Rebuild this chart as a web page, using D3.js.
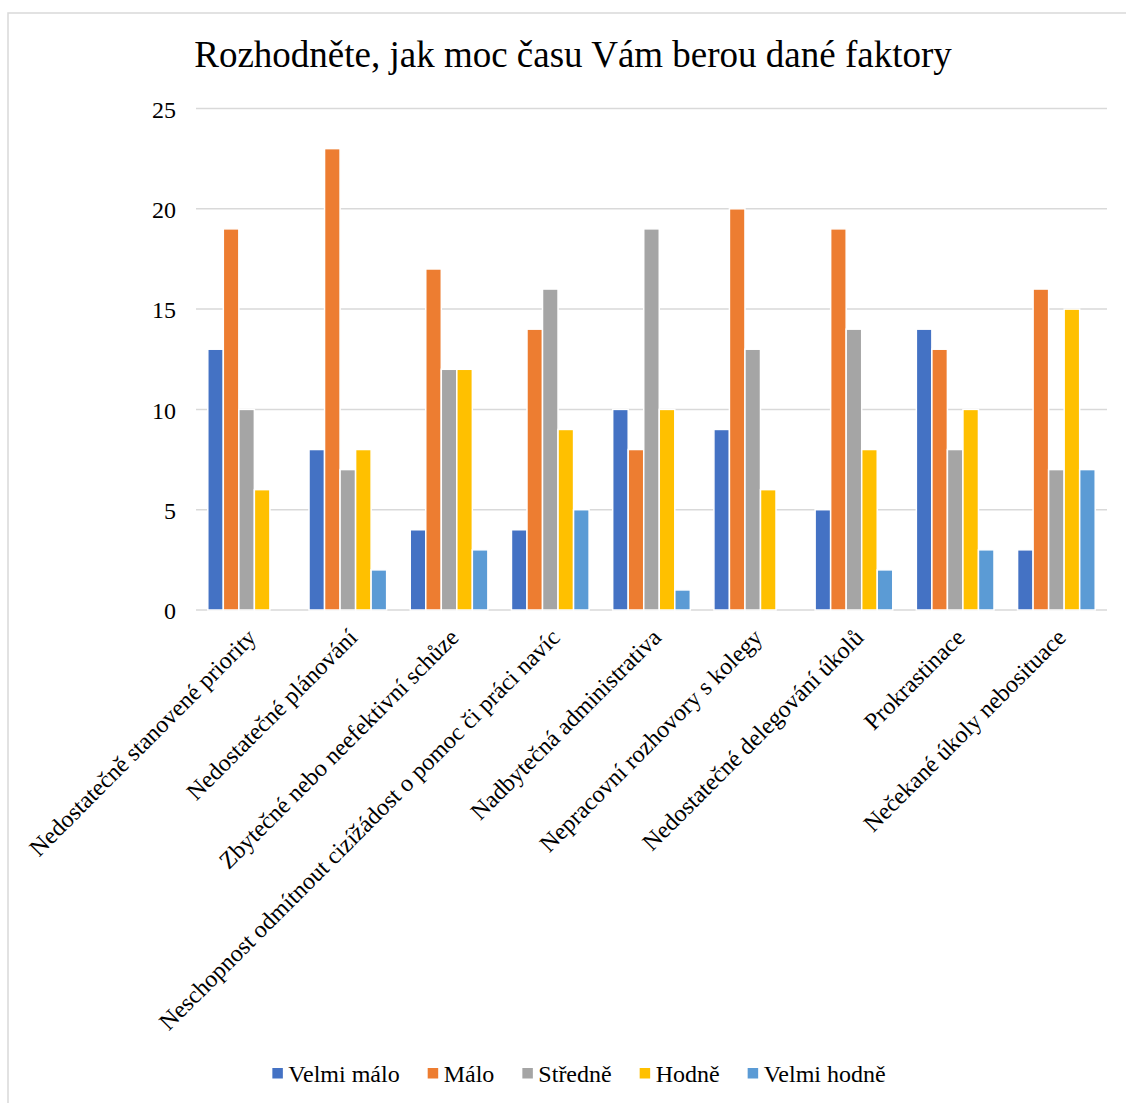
<!DOCTYPE html>
<html>
<head>
<meta charset="utf-8">
<script src="https://cdn.jsdelivr.net/npm/d3@7"></script>
<style>
  html, body { margin: 0; padding: 0; background: #fff; }
  svg { display: block; }
  text { font-family: "Liberation Serif", "Times New Roman", serif; fill: #000; }
</style>
</head>
<body>
<svg id="chart" width="1126" height="1103"></svg>
<script>
const title = "Rozhodněte, jak moc času Vám berou dané faktory";
const categories = [
  "Nedostatečně stanovené priority",
  "Nedostatečné plánování",
  "Zbytečné nebo neefektivní schůze",
  "Neschopnost odmítnout cizížádost o pomoc či práci navíc",
  "Nadbytečná administrativa",
  "Nepracovní rozhovory s kolegy",
  "Nedostatečné delegování úkolů",
  "Prokrastinace",
  "Nečekané úkoly nebosituace"
];
const seriesNames = ["Velmi málo", "Málo", "Středně", "Hodně", "Velmi hodně"];
const velmiMalo  = [13, 8, 4, 4, 10, 9, 5, 14, 3];
const malo       = [19, 23, 17, 14, 8, 20, 19, 13, 16];
const stredne    = [10, 7, 12, 16, 19, 13, 14, 8, 7];
const hodne      = [6, 8, 12, 9, 10, 6, 8, 10, 15];
const velmiHodne = [0, 2, 3, 5, 1, 0, 2, 3, 7];
const yTicks = [0, 5, 10, 15, 20, 25];
const colors = ["#4472C4", "#ED7D31", "#A5A5A5", "#FFC000", "#5B9BD5"];

const seriesValues = [velmiMalo, malo, stredne, hodne, velmiHodne];

const svg = d3.select("#chart");

// chart area border (cropped on right/bottom)
svg.append("rect")
  .attr("x", 8).attr("y", 13).attr("width", 1200).attr("height", 1200)
  .attr("fill", "none").attr("stroke", "#D9D9D9").attr("stroke-width", 1.5);

const plot = { left: 196, right: 1107, top: 108.5, bottom: 610 };

const x0 = d3.scaleBand().domain(categories)
  .range([plot.left, plot.right]).paddingInner(0.233).paddingOuter(0.1165);
const x1 = d3.scaleBand().domain(seriesNames).range([0, x0.bandwidth()]);
const y = d3.scaleLinear().domain([0, 25]).range([plot.bottom, plot.top]);

// title
svg.append("text")
  .attr("x", 573).attr("y", 67)
  .attr("text-anchor", "middle")
  .style("font-size", "37px")
  .text(title);

// gridlines
svg.append("g").selectAll("line").data(yTicks).join("line")
  .attr("x1", plot.left).attr("x2", plot.right)
  .attr("y1", d => y(d)).attr("y2", d => y(d))
  .attr("stroke", "#D9D9D9").attr("stroke-width", 1.5);

// y axis labels
const yAxis = d3.axisLeft(y).tickValues(yTicks).tickSize(0).tickPadding(0).tickFormat(d3.format("d"));
const yg = svg.append("g").attr("transform", `translate(176,1)`).call(yAxis);
yg.select(".domain").remove();
yg.selectAll("text").style("font-size", "24px").style("font-family", "Liberation Serif").attr("fill", "#000");

// bars
const rows = categories.map((c, i) => ({ cat: c, vals: seriesNames.map((s, j) => ({ s, j, v: seriesValues[j][i] })) }));
const groups = svg.append("g").selectAll("g").data(rows).join("g")
  .attr("transform", d => `translate(${x0(d.cat)},0)`);
groups.selectAll("rect").data(d => d.vals.filter(e => e.v > 0)).join("rect")
  .attr("x", d => x1(d.s))
  .attr("width", x1.bandwidth())
  .attr("y", d => y(d.v))
  .attr("height", d => y(0) - y(d.v))
  .attr("fill", d => colors[d.j])
  .attr("stroke", "#fff").attr("stroke-width", 1.5);

// x labels
svg.append("g").selectAll("text").data(categories).join("text")
  .attr("text-anchor", "end")
  .attr("transform", d => `translate(${x0(d) + x0.bandwidth() / 2 + 11},639) rotate(-45)`)
  .style("font-size", "24px")
  .text(d => d);

// legend
const legend = svg.append("g");
const items = legend.selectAll("g").data(seriesNames).join("g");
items.append("rect").attr("width", 10.5).attr("height", 10.5).attr("y", -16)
  .attr("fill", (d, i) => colors[i]);
items.append("text").attr("x", 16).attr("y", -2).style("font-size", "24px").text(d => d);
let cx = 0;
const widths = [];
items.each(function () {
  const w = d3.select(this).select("text").node().getComputedTextLength();
  widths.push(w);
});
const gap = 28;
const total = widths.reduce((a, w) => a + 16 + w, 0) + gap * (widths.length - 1);
let start = 579 - total / 2;
items.attr("transform", (d, i) => {
  const t = `translate(${start},1084)`;
  start += 16 + widths[i] + gap;
  return t;
});
</script>
</body>
</html>
